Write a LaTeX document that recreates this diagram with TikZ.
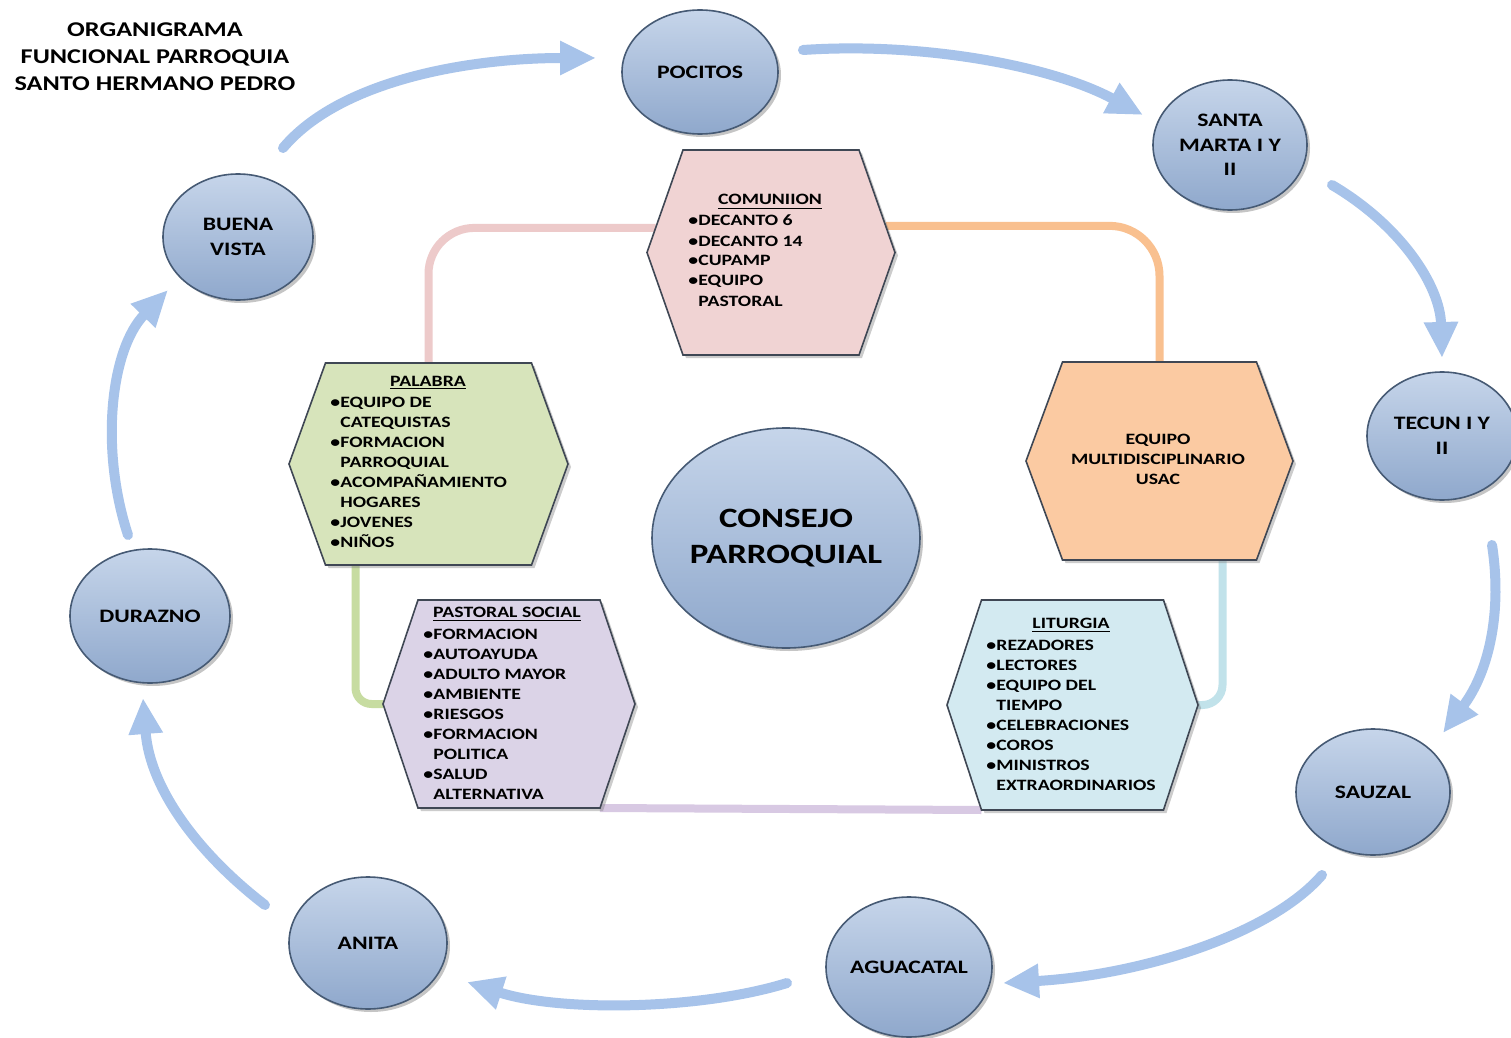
\documentclass[tikz,border=0pt]{standalone}
\usepackage{fontspec}
\setmainfont{Carlito}[FakeStretch=1.25]
\usetikzlibrary{shapes.geometric,arrows.meta,shadows,calc}
\definecolor{cycblue}{HTML}{A7C3EA}
\definecolor{elltop}{HTML}{C6D5EA}
\definecolor{ellbot}{HTML}{8FA8CC}
\definecolor{ellborder}{HTML}{465A74}
\definecolor{hexborder}{HTML}{3F4754}
\definecolor{pinkfill}{HTML}{F0D3D3}
\definecolor{greenfill}{HTML}{D7E4BB}
\definecolor{lavfill}{HTML}{DBD3E7}
\definecolor{orangefill}{HTML}{FBCAA2}
\definecolor{bluefill}{HTML}{D3EAF1}
\definecolor{pinkline}{HTML}{EDCACA}
\definecolor{orangeline}{HTML}{F9C08F}
\definecolor{greenline}{HTML}{C7DCA1}
\definecolor{blueline}{HTML}{C1E2EA}
\definecolor{lavline}{HTML}{D8C9E3}
\newcommand\hexcoords[6]{%
  \coordinate (#1-nw) at ({#2-#4},{#3-#6});
  \coordinate (#1-ne) at ({#2+#4},{#3-#6});
  \coordinate (#1-e) at ({#2+#5},#3);
  \coordinate (#1-se) at ({#2+#4},{#3+#6});
  \coordinate (#1-sw) at ({#2-#4},{#3+#6});
  \coordinate (#1-w) at ({#2-#5},#3);
  \coordinate (#1-n) at (#2,{#3-#6});
}
\newcommand\hexdraw[2]{%
  \draw[hexstyle, fill=#2] (#1-nw) -- (#1-ne) -- (#1-e) -- (#1-se) -- (#1-sw) -- (#1-w) -- cycle;
}
\newcommand\bu{\makebox[5pt][l]{•}}
\newcommand\ind{\hspace*{5pt}}
\begin{document}
\begin{tikzpicture}[x=0.5pt,y=-0.5pt,
  cyc/.style={draw=cycblue, line width=5pt, line cap=round,
    -{Triangle[length=18pt,width=16pt]}},
  place/.style={ellipse, draw=ellborder, line width=0.8pt, top color=elltop,
    bottom color=ellbot, inner sep=-8pt, align=center,
    font=\bfseries\fontsize{9.5}{12.25}\selectfont,
    drop shadow={shadow xshift=1.5pt, shadow yshift=-1.5pt, opacity=0.45}},
  hexstyle/.style={draw=hexborder, line width=0.8pt,
    drop shadow={shadow xshift=1.5pt, shadow yshift=-1.5pt, opacity=0.4}},
  conn/.style={line width=4pt},
  lst/.style={anchor=base west, align=left, inner sep=0pt,
    font=\bfseries\fontsize{7.9}{10}\selectfont},
  hdr/.style={anchor=base, inner sep=0pt,
    font=\bfseries\fontsize{7.9}{10}\selectfont},
]
\useasboundingbox[fill=white] (0,0) rectangle (1511,1038);

% title
\node[align=center, inner sep=0pt, font=\bfseries\fontsize{10.5}{13.5}\selectfont] (title) at (155,57)
  {ORGANIGRAMA\\FUNCIONAL PARROQUIA\\SANTO HERMANO PEDRO};

% cycle arrow end points
\coordinate (a1s) at (283,148); \coordinate (a1e) at (596,58);
\coordinate (a2s) at (803,50);  \coordinate (a2e) at (1143,115);
\coordinate (a3s) at (1332,185); \coordinate (a3e) at (1442,358);
\coordinate (a4s) at (1492,545); \coordinate (a4e) at (1443,733);
\coordinate (a5s) at (1322,875); \coordinate (a5e) at (1003,983);
\coordinate (a6s) at (787,983);  \coordinate (a6e) at (467,982);
\coordinate (a7s) at (265,905);  \coordinate (a7e) at (143,698);
\coordinate (a8s) at (128,535);  \coordinate (a8e) at (168,290);

\draw[cyc] (a1s) .. controls (340,80) and (470,58) .. (a1e);
\draw[cyc] (a2s) .. controls (920,42) and (1050,65) .. (a2e);
\draw[cyc] (a3s) .. controls (1400,225) and (1440,285) .. (a3e);
\draw[cyc] (a4s) .. controls (1502,610) and (1490,670) .. (a4e);
\draw[cyc] (a5s) .. controls (1270,935) and (1140,975) .. (a5e);
\draw[cyc] (a6s) .. controls (700,1010) and (560,1012) .. (a6e);
\draw[cyc] (a7s) .. controls (200,855) and (150,790) .. (a7e);
\draw[cyc] (a8s) .. controls (100,450) and (110,350) .. (a8e);

% hexagon geometry
\hexcoords{com}{771}{252.5}{88}{124}{102.5}
\hexcoords{pal}{428.5}{464}{103}{139.5}{101}
\hexcoords{ps}{509}{704}{91}{126}{104}
\hexcoords{eq}{1159.5}{461}{97}{133.5}{99}
\hexcoords{lit}{1072.5}{705}{91}{125.5}{105}

% inner connectors
\draw[conn, pinkline, rounded corners=23pt] ($(com-nw)!0.76!(com-w)$) -| (pal-n);
\draw[conn, orangeline, rounded corners=25pt] ($(com-ne)!0.74!(com-e)$) -| (eq-n);
\draw[conn, greenline, rounded corners=8pt] ($(pal-sw)+(30,0)$) |- (ps-w);
\draw[conn, blueline, rounded corners=10pt] ($(eq-se)+(-34,0)$) |- (lit-e);
\draw[conn, lavline] (ps-se) -- (lit-sw);

% hexagons
\hexdraw{com}{pinkfill}
\hexdraw{pal}{greenfill}
\hexdraw{ps}{lavfill}
\hexdraw{eq}{orangefill}
\hexdraw{lit}{bluefill}

% hexagon texts (list nodes anchored at the baseline of their last line)
\node[hdr] (comh) at (770,205) {\underline{COMUNIION}};
\node[lst] (coml) at (688,306) {\bu DECANTO 6\\\bu DECANTO 14\\\bu CUPAMP\\\bu EQUIPO\\\ind PASTORAL};

\node[hdr] (palh) at (428,386) {\underline{PALABRA}};
\node[lst] (pall) at (330,547) {\bu EQUIPO DE\\\ind CATEQUISTAS\\\bu FORMACION\\\ind PARROQUIAL\\\bu ACOMPAÑAMIENTO\\\ind HOGARES\\\bu JOVENES\\\bu NIÑOS};

\node[hdr] (psh) at (507,617) {\underline{PASTORAL SOCIAL}};
\node[lst] (psl) at (423,799) {\bu FORMACION\\\bu AUTOAYUDA\\\bu ADULTO MAYOR\\\bu AMBIENTE\\\bu RIESGOS\\\bu FORMACION\\\ind POLITICA\\\bu SALUD\\\ind ALTERNATIVA};

\node[hdr] (lith) at (1071,628) {\underline{LITURGIA}};
\node[lst] (litl) at (986,790) {\bu REZADORES\\\bu LECTORES\\\bu EQUIPO DEL\\\ind TIEMPO\\\bu CELEBRACIONES\\\bu COROS\\\bu MINISTROS\\\ind EXTRAORDINARIOS};

\node[align=center, inner sep=0pt, font=\bfseries\fontsize{7.9}{10}\selectfont] (eqt) at (1158,459)
  {EQUIPO\\MULTIDISCIPLINARIO\\USAC};

% places
\node[place, minimum width=78pt, minimum height=62pt] (poc) at (700,72) {POCITOS};
\node[place, minimum width=77pt, minimum height=65pt] (sm) at (1230,145) {SANTA\\MARTA I Y\\II};
\node[place, minimum width=75pt, minimum height=64pt] (tec) at (1442,436) {TECUN I Y\\II};
\node[place, minimum width=77pt, minimum height=63pt] (sau) at (1373,792) {SAUZAL};
\node[place, minimum width=83pt, minimum height=70pt] (agu) at (909,967) {AGUACATAL};
\node[place, minimum width=79pt, minimum height=66pt] (ani) at (368,943) {ANITA};
\node[place, minimum width=80pt, minimum height=67pt] (dur) at (150,616) {DURAZNO};
\node[place, minimum width=75pt, minimum height=63pt] (bv) at (238,237) {BUENA\\VISTA};
\node[place, minimum width=134pt, minimum height=110pt,
  font=\bfseries\fontsize{14}{18}\selectfont] (cons) at (786,538) {CONSEJO\\PARROQUIAL};
\end{tikzpicture}
\end{document}
